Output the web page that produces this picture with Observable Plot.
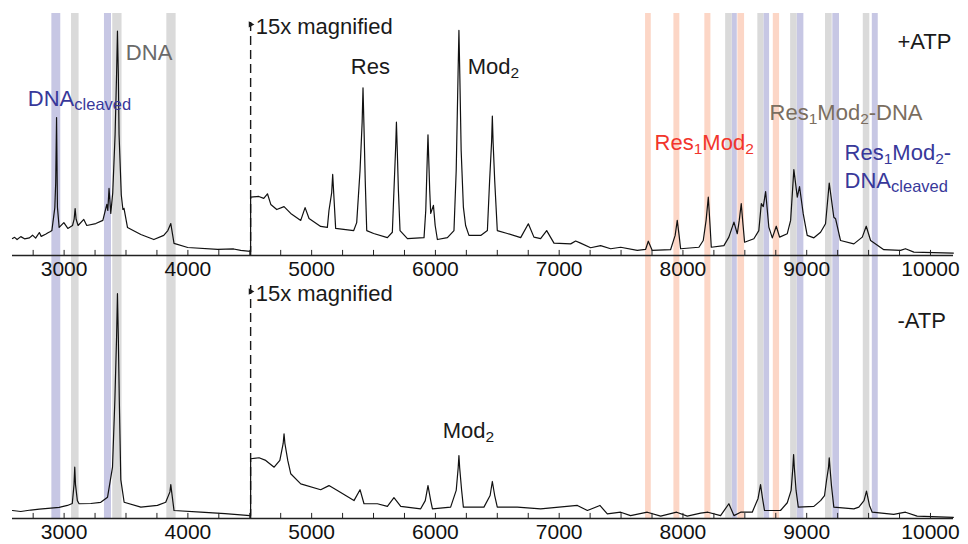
<!DOCTYPE html>
<html>
<head>
<meta charset="utf-8">
<script src="https://cdn.jsdelivr.net/npm/d3@7"></script>
<script src="https://cdn.jsdelivr.net/npm/@observablehq/plot@0.6"></script>
<style>
  html, body { margin: 0; padding: 0; background: white; }
  #chart svg { display: block; }
</style>
</head>
<body>
<div id="chart"></div>
<script>
// ---------- data (m/z, intensity in % of panel height) ----------
const topMz = [2583,2600,2620,2650,2680,2720,2745,2770,2800,2815,2850,2870,2890,2901,2925,2932,2939,2946,2960,2998,3030,3068,3081,3089,3097,3113,3159,3183,3256,3313,3345,3353,3363,3377,3393,3412,3424,3431,3438,3444,3462,3475,3484,3512,3620,3725,3805,3838,3862,3888,3999,4241,4370,4427,4504,4507,
  4507,4573,4613,4643,4670,4718,4777,4831,4912,4947,4979,5073,5127,5140,5162,5170,5178,5194,5275,5340,5364,5391,5408,5415,5422,5433,5445,5501,5612,5652,5665,5679,5685,5691,5701,5714,5774,5908,5922,5934,5940,5946,5954,5962,5984,5998,6016,6097,6150,6168,6183,6190,6197,6208,6226,6244,6271,6366,6420,6438,6454,6460,6466,6479,6500,6581,6689,6751,6796,6850,6899,6958,7093,7133,7173,7254,7335,7416,7497,7631,7698,7720,7752,7900,7937,7954,7969,7981,8129,8164,8187,8205,8219,8229,8331,8371,8412,8439,8455,8471,8486,8498,8573,8613,8633,8649,8668,8694,8722,8754,8781,8843,8870,8896,8924,8942,8972,9004,9058,9112,9152,9182,9219,9233,9273,9381,9449,9481,9516,9548,9623,9758,9798,9866,10185];
const topIntensity = [7.0,7.5,6.6,7.8,6.9,7.3,8.4,7.2,9.5,7.9,8.8,9.4,9.9,10.3,19.8,30,57.0,20,11.6,13.6,11.2,12.4,15,19.4,15,12.4,14.9,12.4,13.2,14.5,21.1,18.6,27.7,17.4,26,50,75,92.7,75,50,25,19,19.5,11.6,8.7,6.6,8.3,10.3,13.2,5.0,3.3,2.5,2.7,2.1,1.7,1.6,
  24.1,24.4,23.6,25.5,21.1,19.0,20.2,17.4,14.5,19.8,15.3,12.0,11.6,18.6,26,33.5,26,11.2,10.7,10.3,13.6,35.1,55,69.3,55,31,10.3,9.1,7.4,9.6,26.9,45,55.1,45,26.9,10.3,7.0,7.4,18.6,40,49.9,40,26.9,17.4,20.7,12.4,6.6,7.4,10.3,35.1,75,93.0,75,43.4,20.0,12.4,8.3,8.3,10.3,31,47,57.6,47,31,10.3,9.1,7.4,13.1,7.6,7.0,10.3,5.1,4.8,6.0,5.1,3.2,4.1,2.8,3.4,2.1,2.5,5.9,2.1,2.4,8.3,14.5,8.3,2.8,3.4,6.2,14.5,24.1,12.4,3.4,4.1,7.6,13.8,9.0,14.5,21.4,12.4,5.5,6.9,10.3,21.4,20.2,26.4,11.7,7.3,12.1,7.6,9.0,14.5,35.5,24.1,28.5,17.2,8.3,7.3,9.6,13.1,29.9,15.8,15.2,6.2,4.8,7.6,12.1,6.2,5.1,2.4,2.1,2.8,1.4,1.0];

const bottomMz = [2583,2650,2731,2800,2893,2960,3027,3066,3080,3086,3092,3107,3121,3216,3296,3351,3391,3410,3424,3431,3438,3446,3458,3485,3620,3754,3821,3855,3862,3869,3888,4104,4300,4502,4507,
  4507,4575,4629,4697,4743,4770,4777,4784,4807,4831,4912,5073,5140,5208,5342,5391,5423,5531,5612,5665,5720,5881,5918,5940,5962,5976,6123,6168,6184,6190,6196,6212,6226,6392,6442,6460,6479,6500,6662,6850,7147,7228,7329,7389,7497,7577,7712,7820,7949,8035,8143,8202,8304,8371,8412,8466,8560,8607,8627,8643,8659,8788,8843,8874,8888,8894,8900,8914,8932,9058,9112,9144,9160,9176,9182,9188,9200,9219,9381,9421,9463,9483,9507,9529,9703,9798,9892,10185];
const bottomIntensity = [3.3,2.9,3.5,3.9,4.3,4.6,5.4,6.2,14,21.2,14,7.4,6.1,6.2,6.7,8.8,21.2,48.8,75,92.9,75,48.8,16.1,6.7,4.7,5.4,6.7,11,14.0,11,3.3,2.6,2.0,1.2,1.2,
  24.7,25.1,24.0,21.2,24.0,31,35.0,31,24.0,18.5,14.3,11.9,13.6,11.6,7.4,11.9,6.1,6.1,5.0,8.6,5.0,4.0,7.4,13.6,7.4,4.0,4.7,11.6,21,26.0,21,11.6,4.7,4.7,9.5,15.3,9.5,4.7,4.7,4.0,5.4,3.3,5.4,1.9,2.6,1.2,2.6,1.0,2.6,1.0,2.2,2.6,1.2,6.1,1.2,2.6,2.6,8.3,14.0,8.3,3.3,3.3,6.5,11.6,21,26.4,21,11.6,4.7,5.0,7.4,9.5,15.7,21,25.1,21,13.6,4.7,4.0,4.7,7.4,11.3,5.4,2.6,1.7,2.6,1.0,0.5];

// highlight bands (m/z start, end, kind)
const bandStart = [2901,3326,8399,8654,8923,9211,9530, 3060,3393,3830,8345,8605,8870,9152,9457, 7698,7927,8177,8444,8730];
const bandEnd   = [2973,3383,8439,8700,8977,9265,9578, 3121,3468,3905,8399,8654,8923,9206,9510, 7744,7975,8226,8498,8781];
const bandKind  = ["cleaved","cleaved","cleaved","cleaved","cleaved","cleaved","cleaved",
                   "dna","dna","dna","dna","dna","dna","dna","dna",
                   "protein","protein","protein","protein","protein"];
const bandColors = {cleaved: "#c7c7e4", dna: "#dadada", protein: "#fcd6c6"};

const tickLabels = [3000,4000,5000,6000,7000,8000,9000,10000];
const minorTicks = [2750,3000,3250,3500,3750,4000,4250,4500,4750,5000,5250,5500,5750,6000,6250,6500,6750,7000,7250,7500,7750,8000,8250,8500,8750,9000,9250,9500,9750,10000];

const magnifyAt = 4507;

// labels: text, m/z, intensity (baseline), colour
const topLabelText  = ["DNA{cleaved}","DNA","15x magnified","Res","Mod{2}","+ATP","Res{1}Mod{2}","Res{1}Mod{2}-DNA","Res{1}Mod{2}-","DNA{cleaved}"];
const topLabelMz    = [2707,3499,4548,5316,6261,9733,7771,8700,9306,9306];
const topLabelY     = [61.6,80.6,91.7,75.2,75.2,85.5,43.4,55.8,39.3,27.7];
const topLabelColor = ["#38389a","#6a6a6a","#1a1a1a","#1a1a1a","#1a1a1a","#1a1a1a","#f2352c","#7a6e60","#38389a","#38389a"];

const botLabelText  = ["15x magnified","Mod{2}","-ATP"];
const botLabelMz    = [4548,6059,9733];
const botLabelY     = [90.0,33.1,78.9];
const botLabelColor = ["#1a1a1a","#1a1a1a","#1a1a1a"];

// ---------- build tables ----------
const zip2 = (a, b) => a.map((m, i) => ({mz: m, v: b[i]}));
const topSpec = zip2(topMz, topIntensity);
const botSpec = zip2(bottomMz, bottomIntensity);
const bands = bandStart.map((s, i) => ({x1: s, x2: bandEnd[i], kind: bandKind[i]}));
const makeLabels = (t, m, y, c) => t.map((s, i) => ({text: s, mz: m[i], y: y[i], color: c[i]}));
const topLabels = makeLabels(topLabelText, topLabelMz, topLabelY, topLabelColor);
const botLabels = makeLabels(botLabelText, botLabelMz, botLabelY, botLabelColor);

const xDomain = [2583, 10186];
const FONT = "'Liberation Sans', Arial, Helvetica, sans-serif";

function panel({spec, labs, height, marginTop, marginBottom, yMax, bandBottom, tickPadding, dashTop, arrowY}) {
  return Plot.plot({
    width: 968,
    height,
    marginTop,
    marginBottom,
    marginLeft: 12,
    marginRight: 15,
    x: {domain: xDomain, axis: null},
    y: {domain: [0, yMax], axis: null},
    style: {fontFamily: FONT, fontSize: "21px", color: "#1a1a1a", background: "white", overflow: "visible"},
    marks: [
      Plot.rect(bands, {x1: "x1", x2: "x2", y1: bandBottom, y2: yMax, fill: d => bandColors[d.kind]}),
      Plot.ruleX([magnifyAt], {y1: 0, y2: dashTop, stroke: "#1a1a1a", strokeWidth: 1.4, strokeDasharray: "9,5"}),
      Plot.dot([magnifyAt], {x: d => d, y: arrowY, symbol: "triangle", rotate: 90, r: 2.4, fill: "#1a1a1a", stroke: null}),
      Plot.line(spec, {x: "mz", y: "v", stroke: "#111", strokeWidth: 1.2}),
      Plot.ruleY([0], {stroke: "#222", strokeWidth: 1.3}),
      Plot.ruleX(minorTicks, {y1: 0, y2: 2.1, stroke: "#222", strokeWidth: 1}),
      Plot.axisX({ticks: tickLabels, tickSize: 0, tickPadding, tickFormat: d => String(d), fontSize: 21, anchor: "bottom", fill: "#111"}),
      Plot.text(labs, {x: "mz", y: "y", text: "text", fill: "color", fontSize: 22, textAnchor: "start", lineAnchor: "bottom"})
    ]
  });
}

const topPanel = panel({spec: topSpec, labs: topLabels, height: 280, marginTop: 13, marginBottom: 25, yMax: 100, bandBottom: -10.33, tickPadding: 5.5, dashTop: 96.5, arrowY: 95.5});
const bottomPanel = panel({spec: botSpec, labs: botLabels, height: 264, marginTop: 0, marginBottom: 26, yMax: 98.35, bandBottom: 0, tickPadding: 5.5, dashTop: 97.5, arrowY: 93.8});

// subscript markup {...} -> tspans
function subscripts(svg) {
  svg.querySelectorAll("text").forEach(t => {
    const s = t.textContent;
    if (!s.includes("{")) return;
    t.textContent = "";
    const parts = s.split(/(\{[^}]*\})/).filter(p => p);
    let shifted = false;
    parts.forEach(p => {
      const ts = document.createElementNS("http://www.w3.org/2000/svg", "tspan");
      if (p.startsWith("{")) {
        const inner = p.slice(1, -1);
        ts.textContent = inner;
        ts.setAttribute("font-size", /^\d+$/.test(inner) ? "15.5" : "16.5");
        ts.setAttribute("dy", "4");
        shifted = true;
      } else {
        ts.textContent = p;
        if (shifted) { ts.setAttribute("dy", "-4"); shifted = false; }
      }
      t.appendChild(ts);
    });
  });
}
subscripts(topPanel);
subscripts(bottomPanel);

const chart = document.getElementById("chart");
chart.appendChild(topPanel);
chart.appendChild(bottomPanel);
</script>
</body>
</html>
